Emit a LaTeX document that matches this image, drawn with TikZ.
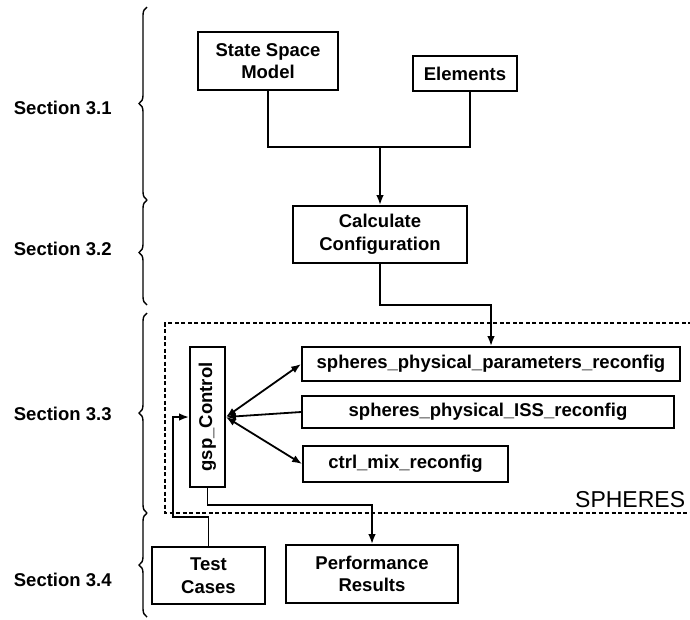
\documentclass[tikz,border=0pt]{standalone}
\usepackage{fontspec}
\setmainfont{Liberation Sans}
\usetikzlibrary{decorations.pathreplacing,arrows.meta}
\begin{document}
\begin{tikzpicture}[x=1pt,y=-1pt,
  line width=1.8pt,
  every node/.style={font=\fontsize{18.5}{22.5}\selectfont\bfseries},
  box/.style={draw,line width=1.8pt,inner sep=0pt,align=center},
  arr/.style={-{Latex[length=10pt,width=7.5pt]}},
  darr/.style={{Latex[length=10pt,width=7.5pt]}-{Latex[length=10pt,width=7.5pt]}},
  brc/.style={decorate,decoration={brace,amplitude=8pt},line width=1.4pt},
  seclab/.style={anchor=west,inner sep=0pt},
  dashbox/.style={dash pattern=on 4pt off 2.5pt,line width=1.5pt}]
\useasboundingbox (0,0) rectangle (690,619);

% section labels and braces
\node[seclab] (s1) at (13,108) {Section 3.1};
\node[seclab] (s2) at (13,249) {Section 3.2};
\node[seclab] (s3) at (13,414) {Section 3.3};
\node[seclab] (s4) at (13,580) {Section 3.4};
\draw[brc] (147,200) -- (147,7);
\draw[brc] (147,305) -- (147,200);
\draw[brc] (147,513) -- (147,313);
\draw[brc] (147,617) -- (147,513);

% SPHERES dashed frame
\draw[dashbox] (692,323) -- (165,323) -- (165,513) -- (692,513);
\node[anchor=base east,inner sep=0pt,font=\fontsize{23}{26}\selectfont] (sph) at (686,507) {SPHERES};

% boxes
\node[box,minimum width=140,minimum height=58] (ssm) at (268,61) {State Space\\Model};
\node[box,minimum width=104,minimum height=35] (elem) at (465,73.5) {Elements};
\node[box,minimum width=174,minimum height=57] (calc) at (380,234.5) {Calculate\\Configuration};
\node[box,minimum width=378,minimum height=34] (spp) at (491,364) {spheres\_physical\_parameters\_reconfig};
\node[box,minimum width=372,minimum height=32] (iss) at (488,412) {spheres\_physical\_ISS\_reconfig};
\node[box,minimum width=205,minimum height=36] (ctrl) at (405.5,464) {ctrl\_mix\_reconfig};
\node[box,minimum width=35,minimum height=140] (gsp) at (207.5,417) {\rotatebox{90}{gsp\_Control}};
\node[box,minimum width=113,minimum height=57] (tc) at (208.5,575.5) {Test\\Cases};
\node[box,minimum width=172,minimum height=58] (perf) at (372,574) {Performance\\Results};

% connectors
\coordinate (j) at (380,147);
\draw (ssm.south) |- (j) -| ([xshift=5]elem.south);
\draw[arr] (j) -- (calc.north);
\coordinate (c1) at (491,305);
\draw[arr] (calc.south) |- (c1) -- (spp.north);
\draw[darr] (gsp.east) -- (spp.west);
\draw[arr] (iss.west) -- (gsp.east);
\draw[darr] (gsp.east) -- (ctrl.west);
\coordinate (t1) at (173,517);
\draw[arr] (tc.north) |- (t1) |- (gsp.west);
\coordinate (p1) at (372,505);
\draw[arr] (gsp.south) |- (p1) -- (perf.north);
\end{tikzpicture}
\end{document}
